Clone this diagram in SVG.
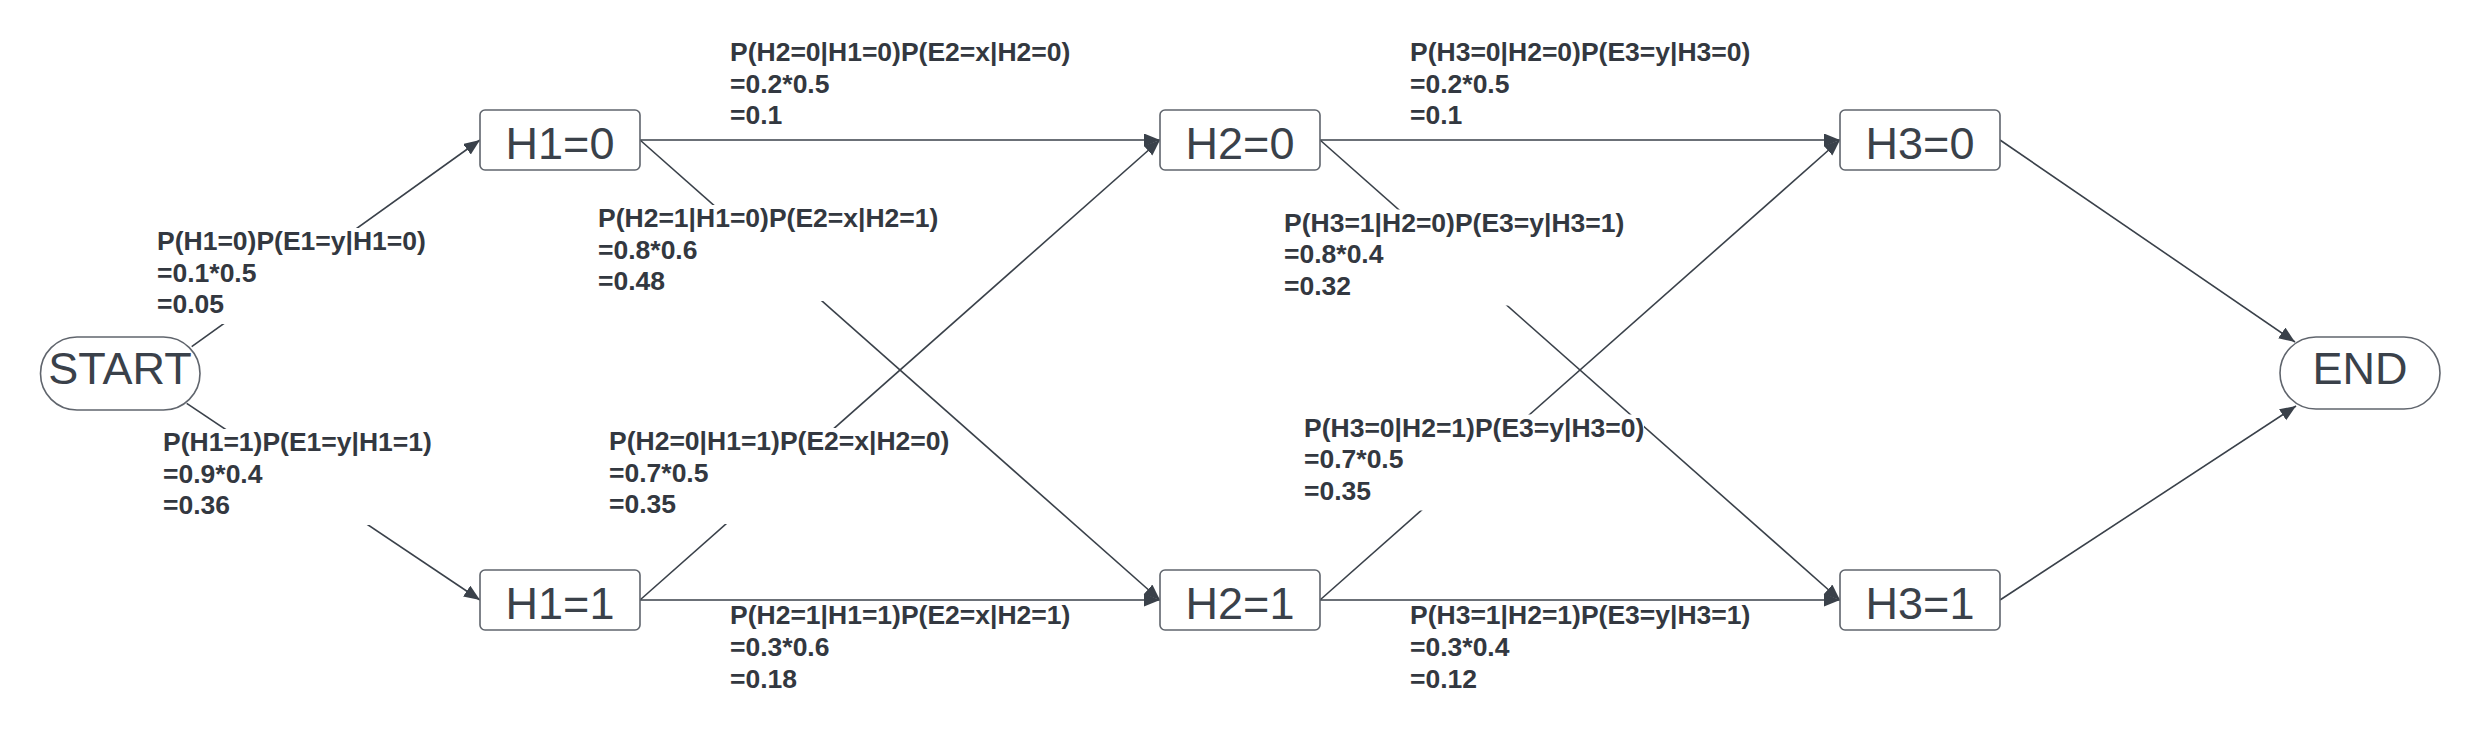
<svg xmlns="http://www.w3.org/2000/svg" width="2480" height="740" viewBox="0 0 2480 740">
  <style>
    .node rect { fill: #ffffff; stroke: #60656d; stroke-width: 1.6; }
    .node text { font-family: "Liberation Sans", Arial, sans-serif; font-size: 45px; fill: #3a414a; text-anchor: middle; }
    .conn { stroke: #3a414a; stroke-width: 1.6; fill: none; marker-end: url(#arrow); }
    .lbl rect { fill: #ffffff; stroke: none; }
    .lbl text { font-family: "Liberation Sans", Arial, sans-serif; font-size: 26.5px; font-weight: bold; fill: #333840; }
  </style>
  <defs>
    <marker id="arrow" markerUnits="userSpaceOnUse" markerWidth="18" markerHeight="14" refX="16" refY="6.5" orient="auto">
      <path d="M0,0 L16,6.5 L0,13 Z" fill="#3a414a"/>
    </marker>
  </defs>
  <rect x="0" y="0" width="2480" height="740" fill="#ffffff"/>

  <g id="connectors">
    <line class="conn" x1="191.7" y1="346.7" x2="480" y2="140"/>
    <line class="conn" x1="186.7" y1="403.3" x2="480" y2="600"/>
    <line class="conn" x1="640" y1="140" x2="1160" y2="140"/>
    <line class="conn" x1="640" y1="140" x2="1160" y2="600"/>
    <line class="conn" x1="640" y1="600" x2="1160" y2="140"/>
    <line class="conn" x1="640" y1="600" x2="1160" y2="600"/>
    <line class="conn" x1="1320" y1="140" x2="1840" y2="140"/>
    <line class="conn" x1="1320" y1="140" x2="1840" y2="600"/>
    <line class="conn" x1="1320" y1="600" x2="1840" y2="140"/>
    <line class="conn" x1="1320" y1="600" x2="1840" y2="600"/>
    <line class="conn" x1="2000" y1="140" x2="2295" y2="342"/>
    <line class="conn" x1="2000" y1="600" x2="2296" y2="406"/>
  </g>

  <g id="labels">
    <g id="lbl-start-h10" class="lbl">
      <rect x="156" y="228" width="271" height="96"/>
      <text><tspan x="157" y="250">P(H1=0)P(E1=y|H1=0)</tspan><tspan x="157" y="281.5">=0.1*0.5</tspan><tspan x="157" y="313">=0.05</tspan></text>
    </g>
    <g id="lbl-start-h11" class="lbl">
      <rect x="162" y="429" width="271" height="96"/>
      <text><tspan x="163" y="451">P(H1=1)P(E1=y|H1=1)</tspan><tspan x="163" y="482.5">=0.9*0.4</tspan><tspan x="163" y="514">=0.36</tspan></text>
    </g>
    <g id="lbl-h10-h20" class="lbl">
      <rect x="729" y="39" width="342" height="96"/>
      <text><tspan x="730" y="61">P(H2=0|H1=0)P(E2=x|H2=0)</tspan><tspan x="730" y="92.5">=0.2*0.5</tspan><tspan x="730" y="124">=0.1</tspan></text>
    </g>
    <g id="lbl-h10-h21" class="lbl">
      <rect x="597" y="205" width="342" height="96"/>
      <text><tspan x="598" y="227">P(H2=1|H1=0)P(E2=x|H2=1)</tspan><tspan x="598" y="258.5">=0.8*0.6</tspan><tspan x="598" y="290">=0.48</tspan></text>
    </g>
    <g id="lbl-h11-h20" class="lbl">
      <rect x="608" y="428" width="342" height="96"/>
      <text><tspan x="609" y="450">P(H2=0|H1=1)P(E2=x|H2=0)</tspan><tspan x="609" y="481.5">=0.7*0.5</tspan><tspan x="609" y="513">=0.35</tspan></text>
    </g>
    <g id="lbl-h11-h21" class="lbl">
      <rect x="729" y="603" width="342" height="96"/>
      <text><tspan x="730" y="624">P(H2=1|H1=1)P(E2=x|H2=1)</tspan><tspan x="730" y="656">=0.3*0.6</tspan><tspan x="730" y="688">=0.18</tspan></text>
    </g>
    <g id="lbl-h20-h30" class="lbl">
      <rect x="1409" y="39" width="342" height="96"/>
      <text><tspan x="1410" y="61">P(H3=0|H2=0)P(E3=y|H3=0)</tspan><tspan x="1410" y="92.5">=0.2*0.5</tspan><tspan x="1410" y="124">=0.1</tspan></text>
    </g>
    <g id="lbl-h20-h31" class="lbl">
      <rect x="1283" y="209.5" width="342" height="96"/>
      <text><tspan x="1284" y="231.5">P(H3=1|H2=0)P(E3=y|H3=1)</tspan><tspan x="1284" y="263">=0.8*0.4</tspan><tspan x="1284" y="294.5">=0.32</tspan></text>
    </g>
    <g id="lbl-h21-h30" class="lbl">
      <rect x="1303" y="414.5" width="341" height="96"/>
      <text><tspan x="1304" y="436.5">P(H3=0|H2=1)P(E3=y|H3=0)</tspan><tspan x="1304" y="468">=0.7*0.5</tspan><tspan x="1304" y="499.5">=0.35</tspan></text>
    </g>
    <g id="lbl-h21-h31" class="lbl">
      <rect x="1409" y="603" width="342" height="96"/>
      <text><tspan x="1410" y="624">P(H3=1|H2=1)P(E3=y|H3=1)</tspan><tspan x="1410" y="656">=0.3*0.4</tspan><tspan x="1410" y="688">=0.12</tspan></text>
    </g>
  </g>

  <g id="START" class="node">
    <rect x="40.5" y="337" width="159.5" height="73" rx="36.5" ry="36.5"/>
    <text x="120" y="383.5">START</text>
  </g>
  <g id="H1_0" class="node">
    <rect x="480" y="110" width="160" height="60" rx="5" ry="5"/>
    <text x="560" y="159">H1=0</text>
  </g>
  <g id="H1_1" class="node">
    <rect x="480" y="570" width="160" height="60" rx="5" ry="5"/>
    <text x="560" y="619">H1=1</text>
  </g>
  <g id="H2_0" class="node">
    <rect x="1160" y="110" width="160" height="60" rx="5" ry="5"/>
    <text x="1240" y="159">H2=0</text>
  </g>
  <g id="H2_1" class="node">
    <rect x="1160" y="570" width="160" height="60" rx="5" ry="5"/>
    <text x="1240" y="619">H2=1</text>
  </g>
  <g id="H3_0" class="node">
    <rect x="1840" y="110" width="160" height="60" rx="5" ry="5"/>
    <text x="1920" y="159">H3=0</text>
  </g>
  <g id="H3_1" class="node">
    <rect x="1840" y="570" width="160" height="60" rx="5" ry="5"/>
    <text x="1920" y="619">H3=1</text>
  </g>
  <g id="END" class="node">
    <rect x="2280" y="337" width="160" height="72" rx="36" ry="36"/>
    <text x="2360" y="384">END</text>
  </g>
</svg>
